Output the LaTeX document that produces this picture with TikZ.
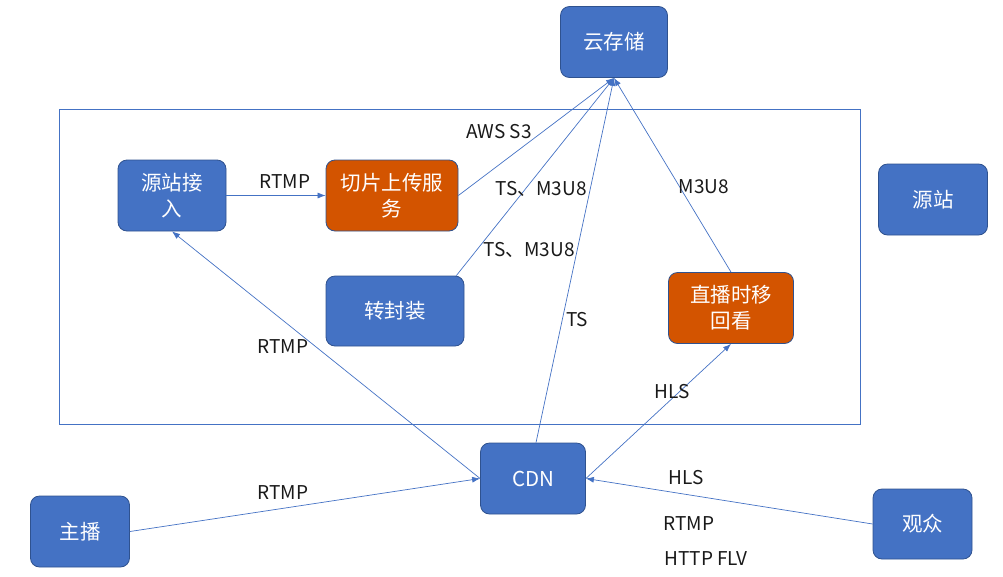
\documentclass[tikz,border=0pt]{standalone}
\usepackage{fontspec}
\setmainfont{Noto Sans CJK SC}
\usetikzlibrary{arrows.meta}
\definecolor{boxblue}{HTML}{4472C4}
\definecolor{boxline}{HTML}{2F528F}
\definecolor{boxorange}{HTML}{D35400}

\begin{document}
\begin{tikzpicture}[x=1pt,y=-1pt,
box/.style={draw=boxline, fill=boxblue, rounded corners=9pt, text=white, align=center,
  font=\fontsize{20.5}{26}\selectfont, inner sep=0pt, line width=0.8pt},
hot/.style={box, fill=boxorange},
lbl/.style={font=\fontsize{19}{22}\selectfont, inner sep=1pt, text=black!90},
link/.style={draw=boxblue, line width=0.7pt, -{Latex[length=8pt,width=6pt]}}]
%\draw[help lines] (0,0) grid (1003,576);
\useasboundingbox (0,0) rectangle (1003,576);

\node[draw=boxblue, line width=0.8pt, minimum width=801pt, minimum height=315pt] (group) at (459.5,266.5) {};

\node[box, minimum width=107pt, minimum height=71pt] (yun) at (614,42) {云存储};
\node[box, minimum width=108pt, minimum height=71pt] (jie) at (172,195.5) {源站接\\入};
\node[hot, minimum width=132pt, minimum height=71pt] (qie) at (392,195.5) {切片上传服\\务};
\node[box, minimum width=138pt, minimum height=70pt] (zhuan) at (395,311) {转封装};
\node[hot, minimum width=125pt, minimum height=71pt] (hui) at (731,308) {直播时移\\回看};
\node[box, minimum width=109pt, minimum height=71pt] (yuan) at (933,199.5) {源站};
\node[box, minimum width=105pt, minimum height=71pt] (cdn) at (533,478.5) {CDN};
\node[box, minimum width=99pt, minimum height=71pt] (zhu) at (80,531.5) {主播};
\node[box, minimum width=99pt, minimum height=70pt] (guan) at (922.5,524) {观众};

\draw[link] (jie.east) -- (qie.west);
\draw[link] (qie.east) -- (yun.south);
\draw[link] (zhuan.30) -- (yun.south);
\draw[link] ([xshift=3pt]cdn.north) -- (yun.south);
\draw[link] (hui.north) -- (yun.south);
\draw[link] (cdn.west) -- (jie.south);
\draw[link] (zhu.east) -- (cdn.west);
\draw[link] (cdn.east) -- (hui.south);
\draw[link] (guan.west) -- (cdn.east);

\node[lbl] (l1) at (285,182) {RTMP};
\node[lbl] (l2) at (499,132) {AWS S3};
\node[lbl] (l3) at (541,189) {TS、M3U8};
\node[lbl] (l4) at (529,250) {TS、M3U8};
\node[lbl] (l5) at (704,187) {M3U8};
\node[lbl] (l6) at (577,320) {TS};
\node[lbl] (l7) at (283,347) {RTMP};
\node[lbl] (l8) at (672,392) {HLS};
\node[lbl] (l9) at (283,493) {RTMP};
\node[lbl] (l10) at (686,478) {HLS};
\node[lbl] (l11) at (689,524) {RTMP};
\node[lbl] (l12) at (706,559) {HTTP FLV};
\end{tikzpicture}
\end{document}
